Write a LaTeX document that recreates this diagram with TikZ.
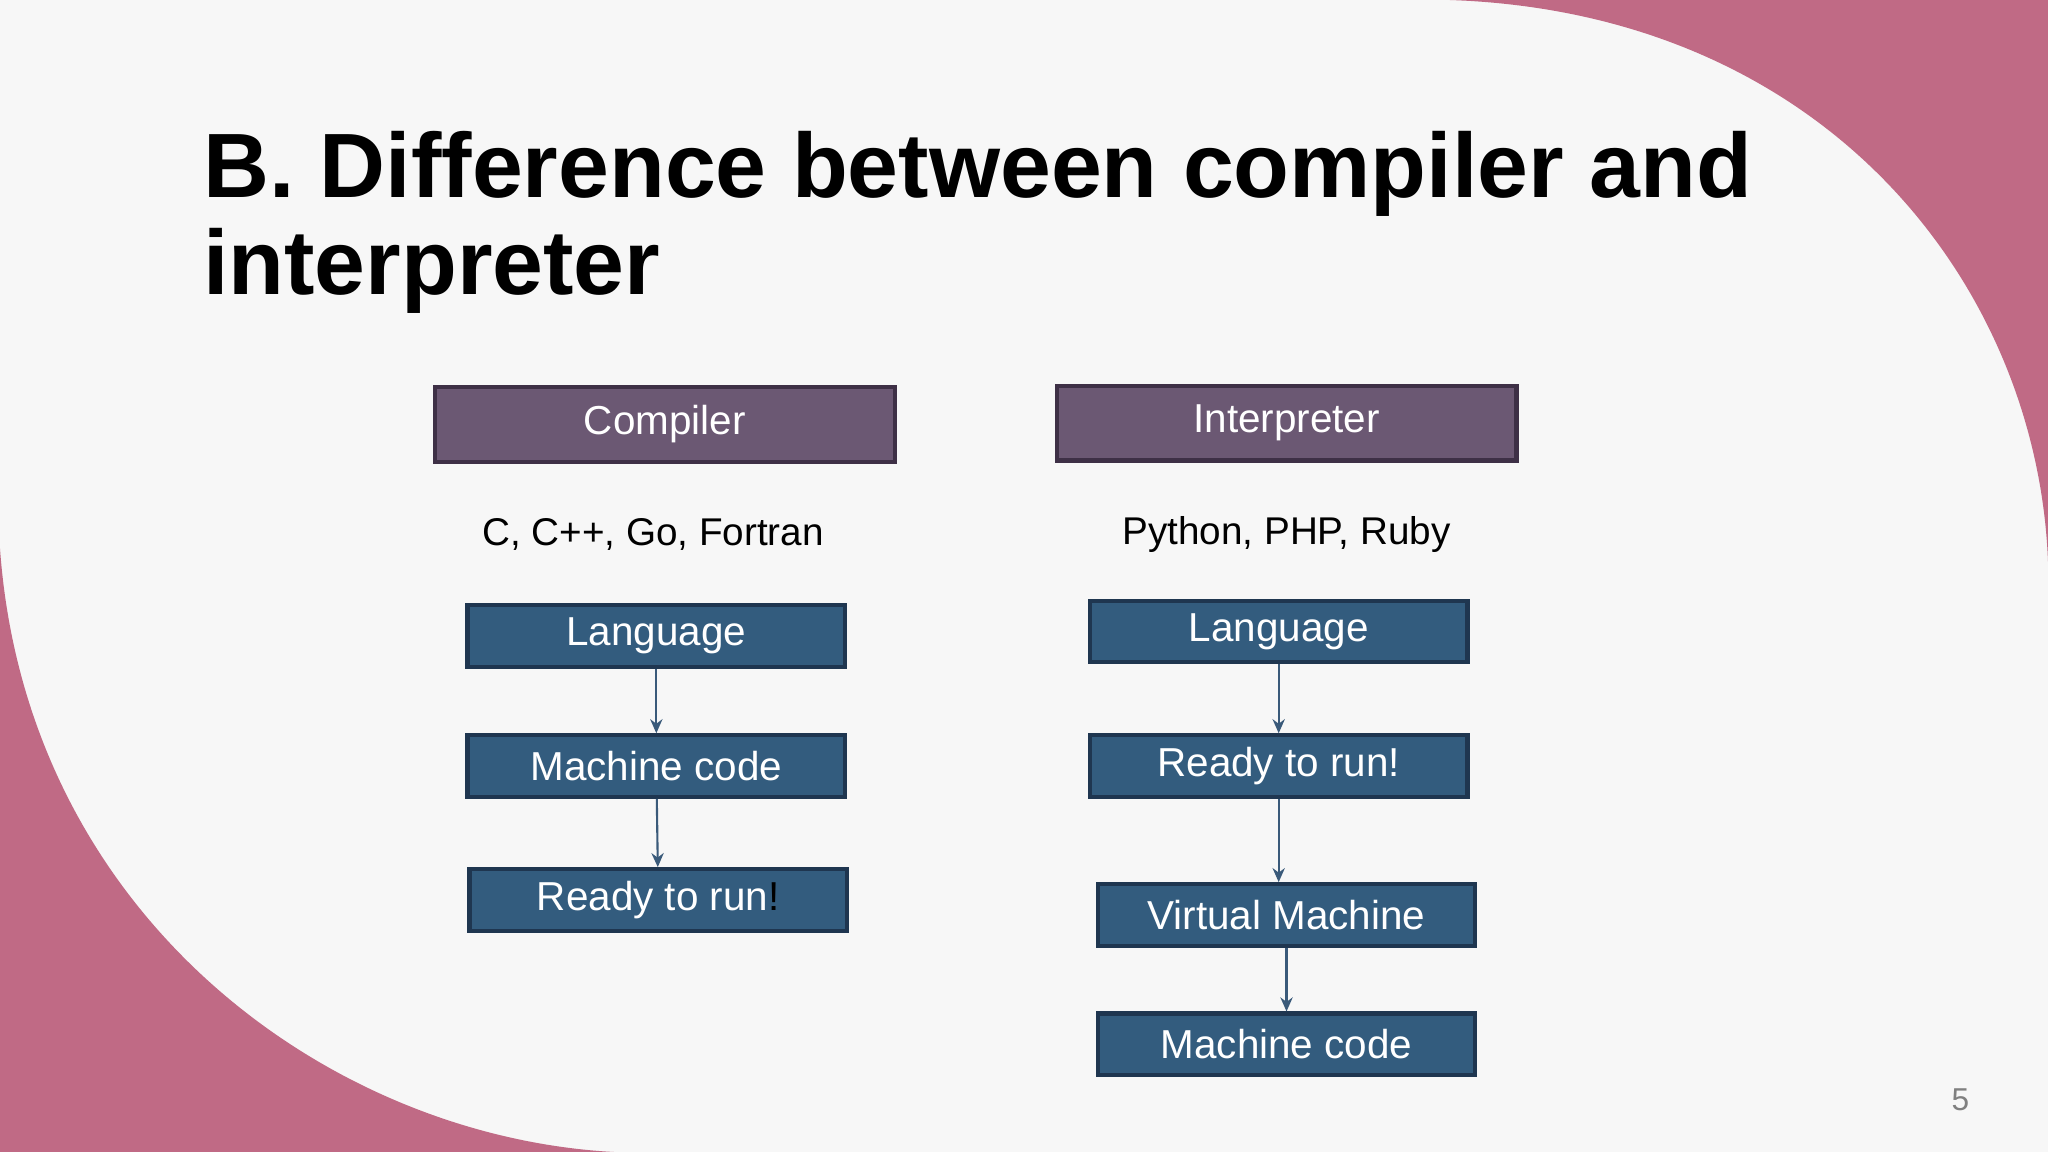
\documentclass[tikz,border=0pt]{standalone}
\usepackage{fontspec}
\setmainfont{Liberation Sans}
\usetikzlibrary{arrows.meta}
\definecolor{bg}{HTML}{F7F7F7}
\definecolor{pink}{HTML}{C06A85}
\definecolor{purp}{HTML}{6B5873}
\definecolor{purpd}{HTML}{3E3046}
\definecolor{blu}{HTML}{335C7E}
\definecolor{blud}{HTML}{1F3650}
\definecolor{arr}{HTML}{3A5A7A}
\begin{document}
\begin{tikzpicture}[x=0.013061cm,y=-0.013061cm,
  head/.style={draw=purpd,line width=1.2pt,fill=purp,text=white,minimum width=352*0.013061cm,minimum height=57*0.013061cm,font=\fontsize{11.5}{13}\selectfont,inner sep=0},
  stepbox/.style={draw=blud,line width=1.2pt,fill=blu,text=white,minimum width=289*0.013061cm,minimum height=47*0.013061cm,font=\fontsize{11.5}{13}\selectfont,inner sep=0},
  lbl/.style={font=\fontsize{11}{13}\selectfont,text=black},
  con/.style={draw=arr,line width=0.6pt,-{Stealth[length=4pt,width=3.5pt]}}]
\fill[bg] (0,0) rectangle (1568,882);
\fill[pink] (1110,0) .. controls (1400,10) and (1560,220) .. (1568,430) -- (1568,0) -- cycle;
\fill[pink] (0,420) .. controls (20,700) and (250,870) .. (470,882) -- (0,882) -- cycle;
\useasboundingbox (0,0) rectangle (1568,882);
\node[anchor=north west,align=left,font=\fontsize{26}{27.5}\selectfont\bfseries,inner sep=0] (title) at (155,100) {B. Difference between compiler and\\interpreter};
\node[head] (comp) at (509,325) {Compiler};
\node[head] (interp) at (985,324) {Interpreter};
\node[lbl] (cl) at (500,409) {C, C++, Go, Fortran};
\node[lbl] (il) at (985,409) {Python, PHP, Ruby};
\node[stepbox] (c1) at (502.5,487) {Language};
\node[stepbox] (c2) at (502.5,586.5) {Machine code};
\node[stepbox] (c3) at (504,689) {Ready to run\textcolor{black}{!}};
\node[stepbox] (i1) at (979,483.5) {Language};
\node[stepbox] (i2) at (979,586.5) {Ready to run!};
\node[stepbox] (i3) at (985,700.5) {Virtual Machine};
\node[stepbox] (i4) at (985,799.5) {Machine code};
\draw[con] (c1) -- (c2);
\draw[con] (c2) -- (c3);
\draw[con] (i1) -- (i2);
\draw[con] (i2.south) -- (i2.south|-i3.north);
\draw[con] (i3) -- (i4);
\node[font=\fontsize{9}{10}\selectfont,text=gray] (pg) at (1501,842) {5};
\end{tikzpicture}
\end{document}
